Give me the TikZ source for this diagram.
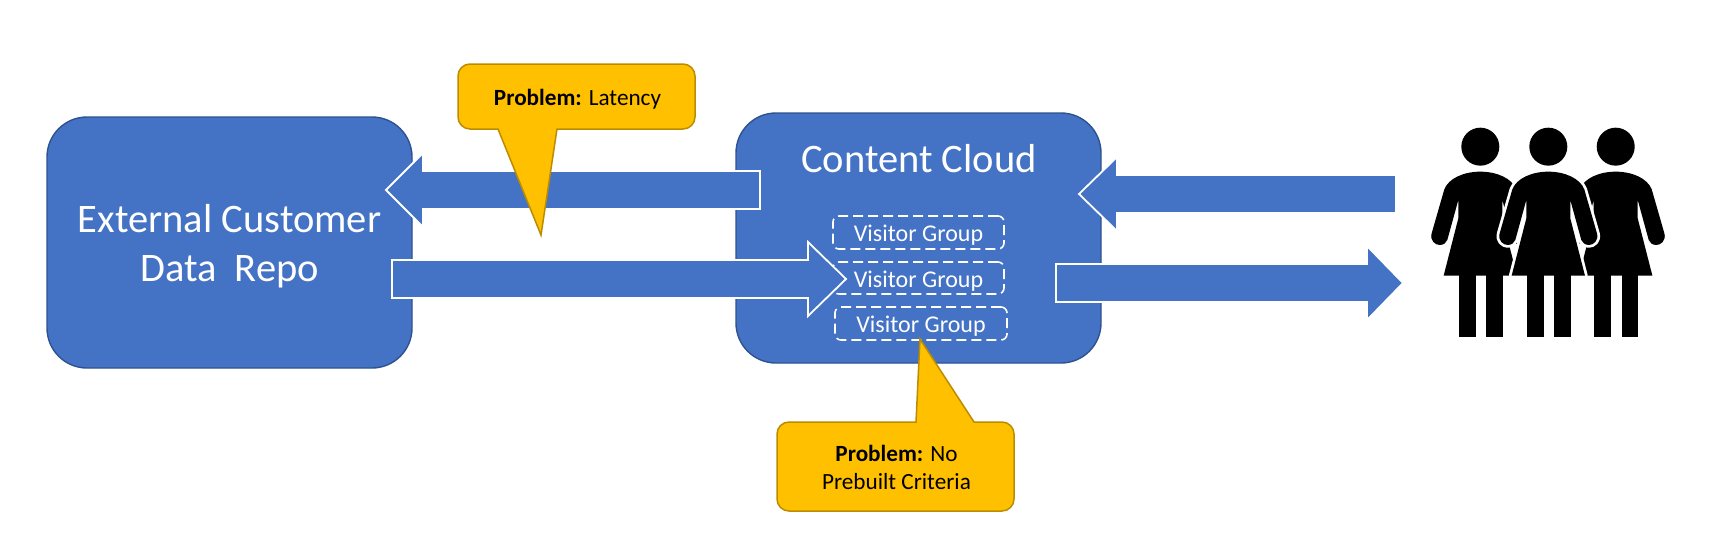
\documentclass[tikz,border=0pt]{standalone}
\usepackage{fontspec}
\setmainfont{Carlito}
\usetikzlibrary{calc}
\definecolor{bluefill}{HTML}{4472C4}
\definecolor{blueline}{HTML}{2F528F}
\definecolor{callfill}{HTML}{FFC000}
\definecolor{callline}{HTML}{BC8C00}
\newcommand{\blockarrow}[4]{%
  \path[blockarrowstyle] let \p1=(#1),\p2=(#2) in
    (\x1,\y1+#4pt) -- (\x2-#3pt,\y1+#4pt) -- (\x2-#3pt,\y1+37pt) -- (\x2,\y1)
    -- (\x2-#3pt,\y1-37pt) -- (\x2-#3pt,\y1-#4pt) -- (\x1,\y1-#4pt) -- cycle;}
\newcommand{\bodypath}{(0,185) .. controls (50,185) and (95,205) .. (108,238) -- (146,370)
  .. controls (152,392) and (135,405) .. (122,405) .. controls (110,405) and (102,398) .. (99,390)
  -- (66,270) -- (66,325) -- (110,497) -- (-110,497) -- (-66,325) -- (-66,270) -- (-99,390)
  .. controls (-102,398) and (-110,405) .. (-122,405) .. controls (-135,405) and (-152,392) .. (-146,370)
  -- (-108,238) .. controls (-95,205) and (-50,185) .. (0,185) -- cycle}
\tikzset{
  x=1pt,y=-1pt,
  bigbox/.style={draw=blueline,fill=bluefill,line width=1.4pt,rounded corners=40pt,inner sep=0pt},
  biglabel/.style={text=white,inner sep=0pt,align=center,font=\fontsize{40.5}{49}\selectfont},
  blockarrowstyle/.style={fill=bluefill,draw=white,line width=1.8pt,miter limit=10},
  visitor/.style={draw=white,dash pattern=on 10pt off 5pt,line width=1.6pt,rounded corners=6pt,
    text=white,inner sep=0pt,text height=18pt,text depth=0pt,font=\fontsize{24}{28}\selectfont},
  callout/.style={fill=callfill,draw=callline,line width=1.5pt,line join=miter},
  calltext/.style={text=black,inner sep=0pt,align=center,font=\fontsize{23.2}{28}\selectfont},
  person/.pic={
    \fill[black] (0,110) circle (57);
    \path[pic actions,line join=round] \bodypath;
    \fill[black] (-64,480) rectangle (-14,680);
    \fill[black] (18,480) rectangle (67,680);
    \fill[black] \bodypath;
  }
}
\begin{document}
\begin{tikzpicture}
\useasboundingbox (0,0) rectangle (1729,558);
\fill[white] (0,0) rectangle (1729,558);

\node[bigbox,minimum width=365pt,minimum height=251pt] (repo) at (229.5,242.5) {};
\node[biglabel] (repolabel) at (229.5,246.5) {External Customer\\Data\ \ Repo};
\node[bigbox,minimum width=365pt,minimum height=250pt] (cloud) at (918.5,238) {};
\node[biglabel] (cloudlabel) at (919,159) {Content Cloud};

\node[visitor,minimum width=171pt,minimum height=33pt] (vg1) at (918.5,232.5) {Visitor Group};
\node[visitor,minimum width=171pt,minimum height=32pt] (vg2) at (918.5,278) {Visitor Group};
\node[visitor,minimum width=172pt,minimum height=33pt] (vg3) at (921,323.5) {Visitor Group};

\coordinate (a1s) at (760,190); \coordinate (a1e) at (386,190);
\coordinate (a2s) at (392,279); \coordinate (a2e) at (846,279);
\coordinate (a3s) at (1396,194); \coordinate (a3e) at (1079,194);
\coordinate (a4s) at (1056,283); \coordinate (a4e) at (1403,283);
\blockarrow{a1s}{a1e}{-37}{19}
\blockarrow{a2s}{a2e}{38}{19}
\blockarrow{a3s}{a3e}{-38}{19}
\blockarrow{a4s}{a4e}{36}{19}

% callouts
\path[callout] (498,129) [rounded corners=12pt] -- (458,129) -- (458,64) -- (695,64) -- (695,129)
  [sharp corners] -- (557,129) -- (541,235) -- cycle;
\node[calltext,anchor=base] (call1) at (577.5,105) {\textbf{Problem:} Latency};
\path[callout] (916,422) [rounded corners=12pt] -- (777,422) -- (777,511) -- (1014,511) -- (1014,422)
  [sharp corners] -- (974,422) -- (920,339) -- cycle;
\node[calltext,anchor=base] (call2) at (896.5,489) {\textbf{Problem:} No\\Prebuilt Criteria};

% people
\pic[scale=1/3] at (1480.3,110) {person};
\pic[scale=1/3] at (1615.7,110) {person};
\pic[scale=1/3,draw=white,line width=5.5pt] at (1548.3,110) {person};
\end{tikzpicture}
\end{document}
